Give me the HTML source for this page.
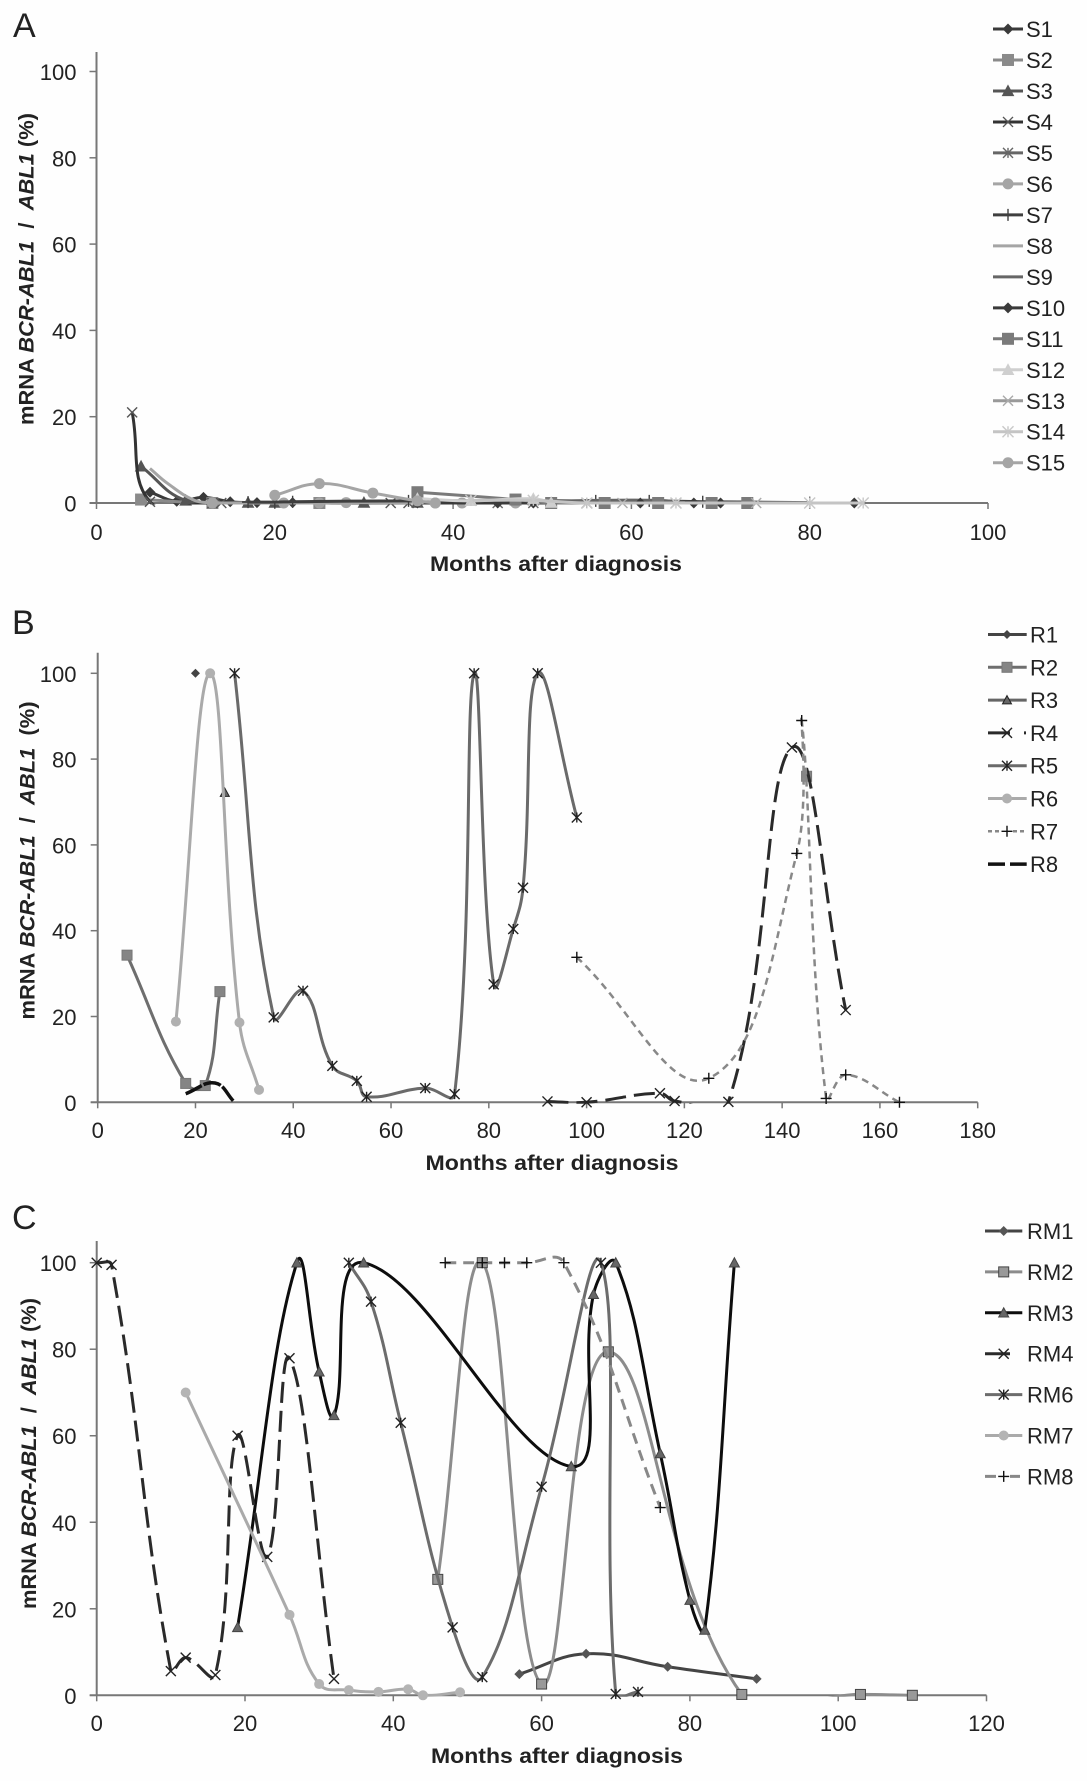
<!DOCTYPE html>
<html lang="en">
<head>
<meta charset="utf-8">
<title>mRNA BCR-ABL1 / ABL1 after diagnosis</title>
<style>
  html,body{margin:0;padding:0;background:#fefefe;}
  #figure{display:block;width:1087px;height:1781px;background:#fefefe;}
  text{font-family:"Liberation Sans",Arial,sans-serif;fill:#222;white-space:pre;}
  .tick{font-size:22px;}
  .legend-text{font-size:22px;}
  .axis-title{font-size:21px;font-weight:bold;}
  .panel-letter{font-size:34px;}
</style>
</head>
<body>
<svg id="figure" xmlns="http://www.w3.org/2000/svg" width="1087" height="1781" viewBox="0 0 1087 1781">
  <text class="panel-letter" x="13" y="37">A</text>
  <text class="panel-letter" x="12" y="634">B</text>
  <text class="panel-letter" x="12" y="1229">C</text>

  <text class="axis-title" x="430" y="571" textLength="252" lengthAdjust="spacingAndGlyphs">Months after diagnosis</text>
  <text class="axis-title" x="425.5" y="1170" textLength="253" lengthAdjust="spacingAndGlyphs">Months after diagnosis</text>
  <text class="axis-title" x="431" y="1763" textLength="252" lengthAdjust="spacingAndGlyphs">Months after diagnosis</text>

  <text class="axis-title" transform="translate(33.5,425) rotate(-90)" textLength="312" lengthAdjust="spacingAndGlyphs">mRNA <tspan font-style="italic">BCR-ABL1</tspan>  /  <tspan font-style="italic">ABL1</tspan> (%)</text>
  <text class="axis-title" transform="translate(34.5,1019.5) rotate(-90)" textLength="318" lengthAdjust="spacingAndGlyphs">mRNA <tspan font-style="italic">BCR-ABL1</tspan>  /  <tspan font-style="italic">ABL1</tspan>  (%)</text>
  <text class="axis-title" transform="translate(36,1609) rotate(-90)" textLength="311" lengthAdjust="spacingAndGlyphs">mRNA <tspan font-style="italic">BCR-ABL1</tspan>  /  <tspan font-style="italic">ABL1</tspan> (%)</text>
</svg>

<script>
// ---------- tick labels ----------
const yTicks = [0, 20, 40, 60, 80, 100];
const xTicksA = [0, 20, 40, 60, 80, 100];
const xTicksB = [0, 20, 40, 60, 80, 100, 120, 140, 160, 180];
const xTicksC = [0, 20, 40, 60, 80, 100, 120];

// ---------- panel A values ----------
const s1Months = [6, 9, 12, 15, 18, 22];
const s1Values = [2.5, 0.4, 1.3, 0.3, 0.1, 0.1];
const s2Months = [5, 13, 25];
const s2Values = [0.8, 0, 0];
const s3Months = [5, 10, 17, 20, 30, 36];
const s3Values = [8.5, 0.6, 0.1, 0.1, 0.1, 0.1];
const s4Months = [4, 6, 13, 14, 33, 35];
const s4Values = [21, 0.3, 0, 0, 0, 0];
const s5Months = [45, 49, 55];
const s5Values = [0, 0, 0];
const s6Months = [13, 21, 25, 28, 38, 41, 47];
const s6Values = [0, 0, 0, 0.1, 0, 0, 0];
const s7Months = [17, 20, 22, 35, 56, 62, 68, 80];
const s7Values = [0.2, 0.2, 0.3, 0.5, 0.5, 0.5, 0.3, 0.1];
const s8Months = [6, 8, 11, 13];
const s8Values = [8, 4.5, 0.6, 0];
const s9Months = [50, 56, 63, 66];
const s9Values = [0.2, 0.6, 0.6, 0.1];
const s10Months = [36, 45, 49, 51, 61, 67, 70, 85];
const s10Values = [0, 0, 0, 0, 0, 0, 0, 0];
const s11Months = [36, 47, 51, 57, 63, 69, 73];
const s11Values = [2.5, 0.8, 0, 0, 0, 0, 0];
const s12Months = [36, 42, 49, 51];
const s12Values = [1, 0.5, 1, 0.1];
const s13Months = [55, 59, 65, 74];
const s13Values = [0, 0, 0, 0];
const s14Months = [42, 49, 55, 65, 80, 86];
const s14Values = [0.6, 0.6, 0, 0, 0, 0];
const s15Months = [20, 25, 31, 36, 38];
const s15Values = [1.8, 4.5, 2.3, 0.5, 0];

// ---------- panel B values ----------
const r1Months = [20];
const r1Values = [100];
const r2Months = [6, 18, 22, 25, null, 145];
const r2Values = [34.3, 4.4, 3.9, 25.8, null, 76];
const r3Months = [26];
const r3Values = [72.2];
const r4Months = [92, 100, 115, 118, 129, 142, 153];
const r4Values = [0.2, 0, 2.1, 0.3, 0.1, 82.7, 21.5];
const r5Months = [28, 36, 42, 48, 53, 55, 67, 73, 77, 81, 85, 87, 90, 98];
const r5Values = [100, 19.8, 26, 8.5, 5, 1.3, 3.3, 1.9, 100, 27.5, 40.4, 50, 100, 66.4];
const r6Months = [16, 23, 29, 33];
const r6Values = [18.8, 100, 18.6, 2.9];
const r7Months = [98, 125, 143, 144, 149, 153, 164];
const r7Values = [33.8, 5.6, 58, 89, 0.9, 6.4, 0];
const r8Months = [18, 24, 28];
const r8Values = [2, 4.5, 0];

// ---------- panel C values ----------
const rm1Months = [57, 66, 77, 89];
const rm1Values = [4.9, 9.6, 6.6, 3.8];
const rm2Months = [46, 52, 60, 69, 87, 103, 110];
const rm2Values = [26.8, 100, 2.6, 79.4, 0.2, 0.2, 0];
const rm3Months = [19, 27, 30, 32, 36, 64, 67, 70, 76, 80, 82, 86];
const rm3Values = [15.7, 100, 74.8, 64.7, 100, 52.9, 92.7, 100, 55.9, 22, 15.1, 100];
const rm4Months = [0, 2, 10, 12, 16, 19, 23, 26, 32];
const rm4Values = [100, 99.5, 5.6, 8.7, 4.7, 60, 32, 77.9, 3.8];
const rm6Months = [34, 37, 41, 48, 52, 60, 68, 70, 73];
const rm6Values = [100, 91, 63, 15.7, 4.2, 48.2, 100, 0.3, 0.8];
const rm7Months = [12, 26, 30, 34, 38, 42, 44, 49];
const rm7Values = [70, 18.6, 2.6, 1.2, 0.8, 1.4, 0, 0.7];
const rm8Months = [47, 52, 55, 58, 63, 76];
const rm8Values = [100, 100, 100, 100, 100, 43.4];

// ---------- helpers ----------
const SVG_NS = 'http://www.w3.org/2000/svg';
const root = document.getElementById('figure');
const SMOOTHING = 0.42;

function make(parent, tag, attrs, text) {
  const node = document.createElementNS(SVG_NS, tag);
  for (const key in attrs) node.setAttribute(key, attrs[key]);
  if (text !== undefined) node.textContent = text;
  parent.appendChild(node);
  return node;
}

function linear(d0, d1, r0, r1) {
  return function (v) { return r0 + (v - d0) / (d1 - d0) * (r1 - r0); };
}

function dist(a, b) {
  return Math.hypot(a[0] - b[0], a[1] - b[1]);
}

// Chord-proportional smoothing: each control arm scales with its own segment length.
function smoothPath(points) {
  if (points.length < 2) return '';
  const outArm = [], inArm = [];
  points.forEach(function (p, i) {
    const prev = points[i - 1] || p;
    const next = points[i + 1] || p;
    const d1 = dist(prev, p), d2 = dist(p, next);
    const sum = d1 + d2 || 1;
    const tx = next[0] - prev[0], ty = next[1] - prev[1];
    outArm.push([p[0] + tx * d2 / sum * SMOOTHING, p[1] + ty * d2 / sum * SMOOTHING]);
    inArm.push([p[0] - tx * d1 / sum * SMOOTHING, p[1] - ty * d1 / sum * SMOOTHING]);
  });
  let d = 'M' + points[0][0].toFixed(2) + ' ' + points[0][1].toFixed(2);
  for (let i = 0; i < points.length - 1; i++) {
    d += 'C' + outArm[i][0].toFixed(2) + ' ' + outArm[i][1].toFixed(2) + ' ' +
         inArm[i + 1][0].toFixed(2) + ' ' + inArm[i + 1][1].toFixed(2) + ' ' +
         points[i + 1][0].toFixed(2) + ' ' + points[i + 1][1].toFixed(2);
  }
  return d;
}

function drawMarker(parent, kind, cx, cy, size, fill, edge) {
  const h = size / 2;
  let node = null;
  if (kind === 'diamond') {
    node = make(parent, 'polygon', { points: [cx, cy - h, cx + h, cy, cx, cy + h, cx - h, cy].join(' '), fill: fill });
  } else if (kind === 'square') {
    node = make(parent, 'rect', { x: cx - h, y: cy - h, width: size, height: size, fill: fill, stroke: edge, 'stroke-width': 1 });
  } else if (kind === 'triangle') {
    node = make(parent, 'polygon', { points: [cx, cy - h, cx + h, cy + h * 0.85, cx - h, cy + h * 0.85].join(' '), fill: fill, stroke: edge, 'stroke-width': 1 });
  } else if (kind === 'circle') {
    node = make(parent, 'circle', { cx: cx, cy: cy, r: h, fill: fill });
  } else if (kind === 'x' || kind === 'star' || kind === 'plus') {
    let d = '';
    if (kind !== 'plus') {
      d += 'M' + (cx - h) + ' ' + (cy - h) + 'L' + (cx + h) + ' ' + (cy + h);
      d += 'M' + (cx - h) + ' ' + (cy + h) + 'L' + (cx + h) + ' ' + (cy - h);
    }
    if (kind === 'star') {
      d += 'M' + cx + ' ' + (cy - h) + 'L' + cx + ' ' + (cy + h);
    }
    if (kind === 'plus') {
      d += 'M' + (cx - h) + ' ' + cy + 'L' + (cx + h) + ' ' + cy;
      d += 'M' + cx + ' ' + (cy - h) + 'L' + cx + ' ' + (cy + h);
    }
    node = make(parent, 'path', { d: d, fill: 'none', stroke: edge, 'stroke-width': 1.4 });
  }
  return node;
}

function drawAxes(panel) {
  const g = make(root, 'g', {});
  
  
  const x = panel.x, y = panel.y;
  const left = x(panel.xTicks[0]);
  const right = x(panel.xTicks[panel.xTicks.length - 1]);
  const axisStyle = { stroke: '#777', 'stroke-width': 2, fill: 'none' };

  // Lines below the axis minimum are cut off at the plot edge.
  const clip = make(root, 'clipPath', { id: panel.id + '-clip' });
  make(clip, 'rect', { x: 0, y: panel.top - 30, width: 1087, height: y(0) + 1.5 - (panel.top - 30) });

  const yLine = make(g, 'line', Object.assign({ x1: left, x2: left, y1: panel.top, y2: y(0) }, axisStyle));
  
  
  const xLine = make(g, 'line', Object.assign({ x1: left - 7, x2: right, y1: y(0), y2: y(0) }, axisStyle));
  
  

  yTicks.forEach(function (v) {
    make(g, 'line', { x1: left - 7, x2: left, y1: y(v), y2: y(v), stroke: '#777', 'stroke-width': 1.5 });
    const label = make(g, 'text', { class: 'tick', x: 76.5, y: y(v) + 8.5, 'text-anchor': 'end' }, String(v));
    
    
  });
  panel.xTicks.forEach(function (v) {
    make(g, 'line', { x1: x(v), x2: x(v), y1: y(0), y2: y(0) + 6, stroke: '#777', 'stroke-width': 1.5 });
    const label = make(g, 'text', { class: 'tick', x: x(v), y: panel.xLabelBase, 'text-anchor': 'middle' }, String(v));
    
    
  });
}

function drawSeries(panel, s) {
  const g = make(root, 'g', {});
  
  
  let segment = [];
  const segments = [segment];
  s.months.forEach(function (m, i) {
    if (m === null) { segment = []; segments.push(segment); return; }
    segment.push([panel.x(m), panel.y(s.values[i])]);
  });
  segments.forEach(function (pts) {
    if (pts.length > 1) {
      const attrs = { d: smoothPath(pts), fill: 'none', stroke: s.color, 'stroke-width': s.width, 'stroke-linejoin': 'round', 'clip-path': 'url(#' + panel.id + '-clip)' };
      if (s.dash) attrs['stroke-dasharray'] = s.dash;
      const line = make(g, 'path', attrs);
      
      
    }
    if (s.marker) {
      pts.forEach(function (p) {
        const mark = drawMarker(g, s.marker, p[0], p[1], s.size, s.fill, s.edge);
        
        
      });
    }
  });
}

function drawLegend(panel) {
  const wrap = make(root, 'g', {});
  
  
  panel.series.forEach(function (s, i) {
    const g = make(wrap, 'g', {});
    
    
    const ly = panel.legend.y + i * panel.legend.step;
    const attrs = { x1: panel.legend.x1, x2: panel.legend.x2, y1: ly, y2: ly, stroke: s.color, 'stroke-width': Math.max(s.width, 2.5) };
    if (s.legendDash) attrs['stroke-dasharray'] = s.legendDash;
    make(g, 'line', attrs);
    if (s.marker) {
      drawMarker(g, s.marker, panel.legend.markX, ly, s.size, s.fill, s.edge);
    }
    make(g, 'text', { class: 'legend-text', x: panel.legend.textX, y: ly + 8 }, s.name);
  });
}

// ---------- panels ----------
const panelA = {
  id: 'panel-a', xTicks: xTicksA, top: 52, xLabelBase: 540,
  x: linear(0, 100, 96.5, 988), y: linear(0, 100, 503, 71.5),
  legend: { x1: 993, x2: 1023, markX: 1008, textX: 1026, y: 29, step: 30.98 },
  series: [
    { name: 'S1', months: s1Months, values: s1Values, color: '#3a3a3a', width: 3, marker: 'diamond', size: 11, fill: '#3a3a3a', edge: '#3a3a3a' },
    { name: 'S2', months: s2Months, values: s2Values, color: '#8a8a8a', width: 3, marker: 'square', size: 11, fill: '#8a8a8a', edge: '#8a8a8a' },
    { name: 'S3', months: s3Months, values: s3Values, color: '#555', width: 3, marker: 'triangle', size: 11, fill: '#555', edge: '#555' },
    { name: 'S4', months: s4Months, values: s4Values, color: '#333', width: 3, marker: 'x', size: 10, fill: 'none', edge: '#555' },
    { name: 'S5', months: s5Months, values: s5Values, color: '#666', width: 3, marker: 'star', size: 10, fill: 'none', edge: '#666' },
    { name: 'S6', months: s6Months, values: s6Values, color: '#a5a5a5', width: 3, marker: 'circle', size: 11, fill: '#a5a5a5', edge: '#a5a5a5' },
    { name: 'S7', months: s7Months, values: s7Values, color: '#3f3f3f', width: 3, marker: 'plus', size: 12, fill: 'none', edge: '#3f3f3f' },
    { name: 'S8', months: s8Months, values: s8Values, color: '#a5a5a5', width: 3, marker: null },
    { name: 'S9', months: s9Months, values: s9Values, color: '#666', width: 3, marker: null },
    { name: 'S10', months: s10Months, values: s10Values, color: '#3a3a3a', width: 3, marker: 'diamond', size: 11, fill: '#3a3a3a', edge: '#3a3a3a' },
    { name: 'S11', months: s11Months, values: s11Values, color: '#7a7a7a', width: 3, marker: 'square', size: 11, fill: '#7a7a7a', edge: '#7a7a7a' },
    { name: 'S12', months: s12Months, values: s12Values, color: '#cfcfcf', width: 3, marker: 'triangle', size: 11, fill: '#cfcfcf', edge: '#cfcfcf' },
    { name: 'S13', months: s13Months, values: s13Values, color: '#999', width: 3, marker: 'x', size: 10, fill: 'none', edge: '#aaa' },
    { name: 'S14', months: s14Months, values: s14Values, color: '#c4c4c4', width: 3, marker: 'star', size: 11, fill: 'none', edge: '#c8c8c8' },
    { name: 'S15', months: s15Months, values: s15Values, color: '#a5a5a5', width: 3, marker: 'circle', size: 11, fill: '#a5a5a5', edge: '#a5a5a5' }
  ]
};

const panelB = {
  id: 'panel-b', xTicks: xTicksB, top: 652.7, xLabelBase: 1138,
  x: linear(0, 180, 97.7, 977.7), y: linear(0, 100, 1102.3, 673.3),
  legend: { x1: 988, x2: 1026.7, markX: 1007, textX: 1030, y: 634.5, step: 32.8 },
  series: [
    { name: 'R1', months: r1Months, values: r1Values, color: '#444', width: 3, marker: 'diamond', size: 9, fill: '#444', edge: '#444' },
    { name: 'R2', months: r2Months, values: r2Values, color: '#6e6e6e', width: 3, marker: 'square', size: 10, fill: '#858585', edge: '#777' },
    { name: 'R3', months: r3Months, values: r3Values, color: '#666', width: 3, marker: 'triangle', size: 9, fill: '#666', edge: '#222' },
    { name: 'R4', months: r4Months, values: r4Values, color: '#2a2a2a', width: 3, dash: '21 8', legendDash: '22 14 2 100', marker: 'x', size: 10, fill: 'none', edge: '#222' },
    { name: 'R5', months: r5Months, values: r5Values, color: '#6a6a6a', width: 3, marker: 'star', size: 10, fill: 'none', edge: '#222' },
    { name: 'R6', months: r6Months, values: r6Values, color: '#aaa', width: 3, marker: 'circle', size: 10, fill: '#b0b0b0', edge: '#b0b0b0' },
    { name: 'R7', months: r7Months, values: r7Values, color: '#888', width: 2.5, dash: '7 5', legendDash: '4 3 4 14 4 3 4', marker: 'plus', size: 11, fill: 'none', edge: '#111' },
    { name: 'R8', months: r8Months, values: r8Values, color: '#111', width: 3.5, dash: '18 2', legendDash: '17 5 17', marker: null }
  ]
};

const panelC = {
  id: 'panel-c', xTicks: xTicksC, top: 1241, xLabelBase: 1731,
  x: linear(0, 120, 96.7, 986.5), y: linear(0, 100, 1695.3, 1262.7),
  legend: { x1: 985, x2: 1022.3, markX: 1003.7, textX: 1027, y: 1231, step: 40.9 },
  series: [
    { name: 'RM1', months: rm1Months, values: rm1Values, color: '#444', width: 3, marker: 'diamond', size: 10, fill: '#555', edge: '#444' },
    { name: 'RM2', months: rm2Months, values: rm2Values, color: '#8c8c8c', width: 3, marker: 'square', size: 10, fill: '#999', edge: '#444' },
    { name: 'RM3', months: rm3Months, values: rm3Values, color: '#0d0d0d', width: 3, marker: 'triangle', size: 10, fill: '#666', edge: '#444' },
    { name: 'RM4', months: rm4Months, values: rm4Values, color: '#2a2a2a', width: 3, dash: '21 8', legendDash: '25 100', marker: 'x', size: 10, fill: 'none', edge: '#222' },
    { name: 'RM6', months: rm6Months, values: rm6Values, color: '#6c6c6c', width: 3, marker: 'star', size: 10, fill: 'none', edge: '#222' },
    { name: 'RM7', months: rm7Months, values: rm7Values, color: '#aaa', width: 3, marker: 'circle', size: 10, fill: '#b4b4b4', edge: '#b4b4b4' },
    { name: 'RM8', months: rm8Months, values: rm8Values, color: '#888', width: 3, dash: '11 7', legendDash: '11 14 10 100', marker: 'plus', size: 11, fill: 'none', edge: '#111' }
  ]
};

[panelA, panelB, panelC].forEach(function (panel) {
  drawAxes(panel);
  panel.series.forEach(function (s) { drawSeries(panel, s); });
  drawLegend(panel);
});
</script>
</body>
</html>
